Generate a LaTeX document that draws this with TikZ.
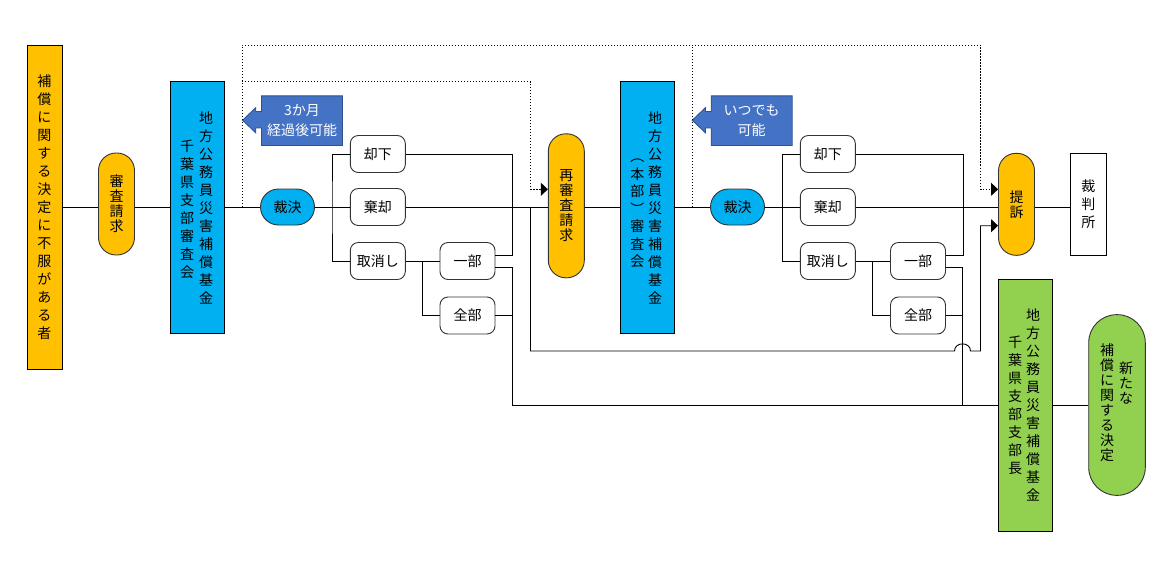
\documentclass[tikz,border=0pt]{standalone}
\usepackage{fontspec}
\setmainfont{Noto Sans CJK JP}
\usetikzlibrary{arrows.meta}
\pgfdeclarelayer{back}
\pgfsetlayers{back,main}
\definecolor{orn}{HTML}{FFC000}
\definecolor{sky}{HTML}{00B0F0}
\definecolor{grn}{HTML}{92D050}
\definecolor{cblue}{HTML}{4472C4}
\definecolor{cedge}{HTML}{2F528F}
\tikzset{
  ln/.style={line width=0.9pt, draw=black},
  dotln/.style={line width=0.9pt, dash pattern=on 1.2pt off 1.8pt},
  tip/.style={-{Triangle[length=7pt,width=13pt]}},
  colbox/.style={draw=black, line width=1pt, inner sep=0pt},
  pill/.style={draw=black!80, line width=0.9pt, inner sep=0pt, rounded corners=17.5pt, minimum width=36pt},
  opt/.style={draw=black!80, line width=0.9pt, rounded corners=8pt, fill=white, minimum width=55pt, minimum height=37pt, inner sep=0pt, font=\fontsize{14}{16}\selectfont},
  vt/.style={align=center, inner sep=0pt, font=\fontsize{14}{18}\selectfont},
  vts/.style={align=center, inner sep=0pt, font=\fontsize{14}{15}\selectfont},
  ctext/.style={text=white, align=center, inner sep=0pt, font=\fontsize{14}{20}\selectfont, minimum width=80.6pt, minimum height=49.3pt},
  cshape/.style={fill=cblue, draw=cedge, line width=0.8pt}
}
\begin{document}
\begin{tikzpicture}[x=1pt,y=-1pt]
\useasboundingbox (0,0) rectangle (1160,560);
\begin{pgfonlayer}{back}
\fill[white] (0,0) rectangle (1160,560);
\end{pgfonlayer}
\coordinate (m) at (0,207);

% ---- left part
\node[colbox, fill=orn, minimum width=35pt, minimum height=324pt, vt] (n1) at (44.5,207) {補\\償\\に\\関\\す\\る\\決\\定\\に\\不\\服\\が\\あ\\る\\者};
\node[pill, fill=orn, minimum height=102pt, vts] (s1) at (116.5,204) {審\\査\\請\\求};
\node[colbox, fill=sky, minimum width=54pt, minimum height=252pt] (b1) at (197,207) {};
\node[vt] (b1r) at (206,207.8) {地\\方\\公\\務\\員\\災\\害\\補\\償\\基\\金};
\node[vt] (b1l) at (187,209.7) {千\\葉\\県\\支\\部\\審\\査\\会};
\node[pill, fill=sky, minimum width=54pt, minimum height=36pt, rounded corners=18pt, font=\fontsize{14}{16}\selectfont] (k1) at (287.5,207) {裁決};
\node[opt] (r1) at (377.8,154) {却下};
\node[opt] (q1) at (377.8,207) {棄却};
\node[opt] (t1) at (377.8,261) {取消し};
\node[opt] (i1) at (467.5,261) {一部};
\node[opt] (z1) at (467.5,315.5) {全部};
\node[pill, fill=orn, minimum height=144pt, vts] (ss) at (566.3,205.8) {再\\審\\査\\請\\求};

% ---- middle part
\node[colbox, fill=sky, minimum width=54pt, minimum height=252pt] (b2) at (647.3,207) {};
\node[vt] (b2r) at (655,207.8) {地\\方\\公\\務\\員\\災\\害\\補\\償\\基\\金};
\node[vt, font=\fontsize{14}{17.5}\selectfont] (b2l) at (637.3,209) {\rule{0pt}{12pt}︵\\本\\部\\︶\\審\\査\\会};
\node[pill, fill=sky, minimum width=54pt, minimum height=36pt, rounded corners=18pt, font=\fontsize{14}{16}\selectfont] (k2) at (737.5,207) {裁決};
\node[opt] (r2) at (827.8,154) {却下};
\node[opt] (q2) at (827.8,207) {棄却};
\node[opt] (t2) at (827.8,261) {取消し};
\node[opt] (i2) at (918,261) {一部};
\node[opt] (z2) at (918,315.5) {全部};

% ---- right part
\node[pill, fill=orn, minimum height=102pt, vts] (te) at (1016.5,204.3) {提\\訴};
\node[colbox, fill=white, minimum width=36pt, minimum height=102pt, vt] (sb) at (1088.3,204.3) {裁\\判\\所};
\node[colbox, fill=grn, minimum width=53.6pt, minimum height=252pt] (g) at (1025.5,405) {};
\node[vt] (gr) at (1033,405) {地\\方\\公\\務\\員\\災\\害\\補\\償\\基\\金};
\node[vt] (gl) at (1015,405) {千\\葉\\県\\支\\部\\支\\部\\長};
\node[pill, fill=grn, minimum width=56.6pt, minimum height=180.7pt, rounded corners=28pt] (nd) at (1117,405) {};
\node[vts] (ndr) at (1126,383.3) {新\\た\\な};
\node[vts] (ndl) at (1107,402.5) {補\\償\\に\\関\\す\\る\\決\\定};

% ---- callouts
\node[ctext] (c1) at (302,120.7) {3か月\\経過後可能};
\node[ctext] (c2) at (751.7,120.7) {いつでも\\可能};
\begin{pgfonlayer}{back}
\filldraw[cshape] (c1.north west) -- (c1.north east) -- (c1.south east) -- (c1.south west)
  -- ++(0,-17.6) -- ++(-5.7,0) -- ++(0,5) -- ++(-13.3,-12.7) -- ++(13.3,-12.7) -- ++(0,4) -- ++(5.7,0) -- cycle;
\filldraw[cshape] (c2.north west) -- (c2.north east) -- (c2.south east) -- (c2.south west)
  -- ++(0,-17.6) -- ++(-5.7,0) -- ++(0,5) -- ++(-13.3,-12.7) -- ++(13.3,-12.7) -- ++(0,4) -- ++(5.7,0) -- cycle;
\end{pgfonlayer}

% ---- coordinates
\coordinate (dA) at (242,207);
\coordinate (dB) at (692,207);
\coordinate (dC) at (242,81.7);
\coordinate (bj1) at (332,207);
\coordinate (bz1) at (422.3,261);
\coordinate (bj2) at (782.3,207);
\coordinate (bz2) at (872.7,261);
\coordinate (mg1) at (512.3,405);
\coordinate (mg2) at (962.5,405);
\coordinate (dn) at (530.5,207);

% ---- main flow
\draw[ln] (n1.east) -- (s1.west |- m);
\draw[ln] (s1.east |- m) -- (b1.west);
\draw[ln] (b1.east) -- (k1.west);
\draw[ln] (k1.east) -- (q1.west);
\draw[ln] (r1.west) -| (bj1) |- (t1.west);
\draw[ln] (t1.east) -- (i1.west);
\draw[ln] (bz1) |- (z1.west);
\draw[ln] (r1.east) -| ([xshift=17pt,yshift=6pt]i1.east) -- ([yshift=6pt]i1.east);
\draw[ln] ([yshift=-6pt]i1.east) -| (mg1) -- (g.west);
\draw[ln] (z1.east) -- (z1.east -| mg1);
\draw[ln] (q1.east) -- (q1.east -| ss.west);
\draw[ln] (ss.east |- m) -- (b2.west);
\draw[ln] (b2.east) -- (k2.west);
\draw[ln] (k2.east) -- (q2.west);
\draw[ln] (r2.west) -| (bj2) |- (t2.west);
\draw[ln] (t2.east) -- (i2.west);
\draw[ln] (bz2) |- (z2.west);
\draw[ln] (r2.east) -| ([xshift=17pt,yshift=6pt]i2.east) -- ([yshift=6pt]i2.east);
\draw[ln] ([yshift=-6pt]i2.east) -| (mg2);
\draw[ln] (z2.east) -- (z2.east -| mg2);
\draw[ln] (q2.east) -- (q2.east -| te.west);
\draw[ln] (te.east |- m) -- (sb.west |- m);
\draw[ln] (g.east) -- (nd.west |- g.east);
\draw[ln, tip] (dn) -- (530.5,351) -- (954.5,351) .. controls (954.5,341.5) and (970.5,341.5) .. (970.5,351)
  -- (980.5,351) -- (980.5,225.7) -- ([yshift=-21.4pt]te.west);

% ---- dotted
\draw[dotln, tip] (dA) -- (242,45) -- (980.5,45) -- (980.5,189.3) -- ([yshift=15pt]te.west);
\draw[dotln, tip] (dC) -- (530.5,81.7) -- (530.5,189.3) -- ([yshift=16.5pt]ss.west);
\draw[dotln] (dB) -- (692,45);
\end{tikzpicture}
\end{document}
